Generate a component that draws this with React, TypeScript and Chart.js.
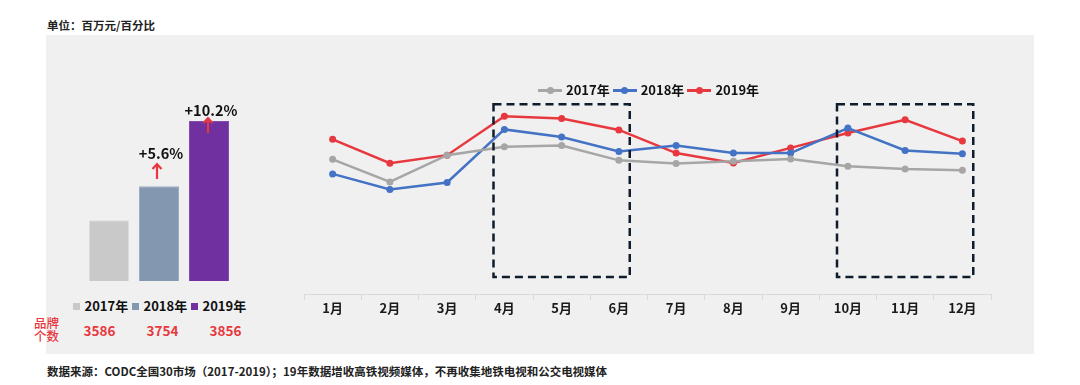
import React, { useEffect, useRef } from 'react';
import { Chart, registerables } from 'chart.js';

Chart.register(...registerables);

const FONT = '"Noto Sans CJK SC", "Noto Sans", sans-serif';

// ---- Bar chart data (annual totals, 百万元) ----
const years = ['2017年', '2018年', '2019年'];
const annualTotals = [6111, 6453, 7111];
const barColors = ['#c9c9c9', '#8497b0', '#7030a0'];
const barBorderColors = ['#dcdcdc', '#9cadc3', '#8549b3'];
const barValueLabels = ['', '', '7111'];
const growthLabels = ['', '+5.6%', '+10.2%'];
const brandCounts = [3586, 3754, 3856];

// ---- Line chart data (monthly, 百万元) ----
const months = ['1月', '2月', '3月', '4月', '5月', '6月', '7月', '8月', '9月', '10月', '11月', '12月'];
const series2017 = [518, 431, 534, 566, 571, 514, 502, 511, 519, 491, 481, 476];
const series2018 = [462, 402, 429, 633, 604, 548, 571, 542, 542, 638, 552, 539];
const series2019 = [595, 503, 534, 684, 675, 631, 542, 504, 562, 619, 670, 588];
const lineSeries = [series2017, series2018, series2019];
const lineColors = ['#a6a6a6', '#4472c4', '#e8383f'];
const highlightRanges = [
  [3, 5],
  [9, 11],
];

const barValuePlugin = {
  id: 'barValueLabels',
  afterDatasetsDraw(chart: any) {
    const ctx = chart.ctx;
    const meta = chart.getDatasetMeta(0);
    ctx.save();
    ctx.font = `bold 13px ${FONT}`;
    ctx.fillStyle = '#ffffff';
    ctx.textAlign = 'center';
    ctx.textBaseline = 'middle';
    meta.data.forEach((el: any, i: number) => {
      const t = barValueLabels[i];
      if (!t) return;
      ctx.fillText(t, el.x, (el.y + el.base) / 2);
    });
    ctx.restore();
  },
};

const dashedBoxPlugin = {
  id: 'dashedBoxes',
  afterDatasetsDraw(chart: any) {
    const ctx = chart.ctx;
    const xs = chart.scales.x;
    const ys = chart.scales.y;
    const step = xs.getPixelForValue(1) - xs.getPixelForValue(0);
    ctx.save();
    ctx.setLineDash([8, 5]);
    ctx.lineWidth = 2.5;
    ctx.strokeStyle = '#0e1c2b';
    highlightRanges.forEach(([a, b]) => {
      const left = xs.getPixelForValue(a) - step * 0.19;
      const right = xs.getPixelForValue(b) + step * 0.19;
      const top = ys.getPixelForValue(730);
      const bottom = ys.getPixelForValue(65);
      ctx.strokeRect(left, top, right - left, bottom - top);
    });
    ctx.restore();
  },
};

function Arrow({ x, y1, y2 }: { x: number; y1: number; y2: number }) {
  return (
    <svg
      style={{ position: 'absolute', left: x - 6, top: y1 - 1, overflow: 'visible' }}
      width={12}
      height={y2 - y1 + 2}
    >
      <line x1={6} y1={1} x2={6} y2={y2 - y1 + 1} stroke="#e8383f" strokeWidth={2.2} />
      <polyline points={`1.5,6 6,1.2 10.5,6`} fill="none" stroke="#e8383f" strokeWidth={2.2} />
    </svg>
  );
}

export default function App() {
  const barRef = useRef<HTMLCanvasElement>(null);
  const lineRef = useRef<HTMLCanvasElement>(null);

  useEffect(() => {
    const barChart = new Chart(barRef.current!, {
      type: 'bar',
      data: {
        labels: years,
        datasets: [
          {
            data: annualTotals,
            backgroundColor: barColors,
            borderColor: barBorderColors,
            borderWidth: 1,
            barPercentage: 0.8,
            categoryPercentage: 1,
          },
        ],
      },
      options: {
        responsive: false,
        animation: false,
        devicePixelRatio: 1,
        layout: { padding: 0 },
        plugins: { legend: { display: false }, tooltip: { enabled: false } },
        scales: {
          x: { display: false },
          y: { display: false, min: 5500, max: 7514 },
        },
      },
      plugins: [barValuePlugin],
    });

    const lineChart = new Chart(lineRef.current!, {
      type: 'line',
      data: {
        labels: months,
        datasets: lineSeries.map((s, i) => ({
          label: years[i],
          data: s,
          borderColor: lineColors[i],
          backgroundColor: lineColors[i],
          pointBackgroundColor: lineColors[i],
          pointBorderColor: lineColors[i],
          pointRadius: 3.5,
          pointBorderWidth: 0,
          borderWidth: 2.5,
          tension: 0,
        })),
      },
      options: {
        responsive: false,
        animation: false,
        devicePixelRatio: 1,
        layout: { padding: { left: 3.6, right: 9, top: 6, bottom: 4.4 } },
        plugins: { legend: { display: false }, tooltip: { enabled: false } },
        scales: {
          x: {
            offset: true,
            grid: {
              offset: true,
              drawOnChartArea: false,
              drawTicks: true,
              tickLength: 6,
              color: '#d9d9d9',
            },
            border: { display: true, color: '#d9d9d9', width: 1 },
            ticks: {
              padding: 0,
              color: '#1a1a1a',
              font: { family: FONT, size: 13, weight: 'bold' },
            },
          },
          y: { display: false, min: 0, max: 800 },
        },
      },
      plugins: [dashedBoxPlugin],
    });

    return () => {
      barChart.destroy();
      lineChart.destroy();
    };
  }, []);

  const textBase: React.CSSProperties = {
    position: 'absolute',
    fontFamily: FONT,
    whiteSpace: 'nowrap',
  };

  return (
    <div
      style={{
        position: 'absolute',
        left: 0,
        top: 0,
        width: 1080,
        height: 385,
        background: '#ffffff',
        overflow: 'hidden',
        fontFamily: FONT,
      }}
    >
      <div style={{ ...textBase, left: 47, top: 17, fontSize: 11.5, lineHeight: '16px', fontWeight: 'bold', color: '#222' }}>
        单位：百万元/百分比
      </div>

      <div style={{ position: 'absolute', left: 46, top: 35, width: 988, height: 319, background: '#f0f0f0' }} />

      <canvas
        ref={barRef}
        width={150}
        height={200}
        style={{ position: 'absolute', left: 84, top: 81, width: 150, height: 200 }}
      />

      {/* growth annotations */}
      <div style={{ ...textBase, left: 161 - 30, width: 60, textAlign: 'center', top: 153 - 10, fontSize: 14.5, lineHeight: '20px', fontWeight: 'bold', color: '#111' }}>
        {growthLabels[1]}
      </div>
      <Arrow x={157} y1={164} y2={179} />
      <div style={{ ...textBase, left: 211 - 35, width: 70, textAlign: 'center', top: 110 - 10, fontSize: 14.5, lineHeight: '20px', fontWeight: 'bold', color: '#111' }}>
        {growthLabels[2]}
      </div>
      <Arrow x={208} y1={118} y2={133} />

      {/* bar legend */}
      <div style={{ position: 'absolute', left: 72.5, top: 297, display: 'flex', height: 18 }}>
        {years.map((y, i) => (
          <div key={y} style={{ width: 59, display: 'flex', alignItems: 'center', height: 18 }}>
            <div style={{ width: 7, height: 7, background: barColors[i], marginRight: 5 }} />
            <span style={{ fontFamily: FONT, fontSize: 13, fontWeight: 'bold', color: '#111', lineHeight: '18px', whiteSpace: 'nowrap' }}>{y}</span>
          </div>
        ))}
      </div>

      {/* brand counts */}
      <div
        style={{
          ...textBase,
          left: 34,
          top: 317,
          fontSize: 12.5,
          lineHeight: '12.5px',
          fontWeight: 500,
          color: '#e8383f',
        }}
      >
        品牌
        <br />
        个数
      </div>
      <div style={{ position: 'absolute', left: 68, top: 321, display: 'flex' }}>
        {brandCounts.map((c) => (
          <div key={c} style={{ width: 63, textAlign: 'center', fontFamily: FONT, fontSize: 13.5, fontWeight: 'bold', color: '#e8383f', lineHeight: '18px' }}>
            {c}
          </div>
        ))}
      </div>

      <canvas
        ref={lineRef}
        width={700}
        height={240}
        style={{ position: 'absolute', left: 300, top: 80, width: 700, height: 240 }}
      />

      {/* line legend */}
      <div style={{ position: 'absolute', left: 538, top: 81, display: 'flex', height: 18, alignItems: 'center' }}>
        {years.map((y, i) => (
          <div key={y} style={{ display: 'flex', alignItems: 'center', marginRight: 3 }}>
            <div style={{ position: 'relative', width: 24, height: 18 }}>
              <div style={{ position: 'absolute', left: 0, top: 8, width: 24, height: 2.5, background: lineColors[i] }} />
              <div style={{ position: 'absolute', left: 8.5, top: 5.75, width: 7, height: 7, borderRadius: '50%', background: lineColors[i] }} />
            </div>
            <span style={{ marginLeft: 4, fontFamily: FONT, fontSize: 13, fontWeight: 'bold', color: '#111', lineHeight: '18px', whiteSpace: 'nowrap' }}>{y}</span>
          </div>
        ))}
      </div>

      <div style={{ ...textBase, left: 47, top: 363, fontSize: 11.5, lineHeight: '16px', fontWeight: 'bold', color: '#222' }}>
        数据来源：CODC全国30市场（2017-2019）；19年数据增收高铁视频媒体，不再收集地铁电视和公交电视媒体
      </div>
    </div>
  );
}
